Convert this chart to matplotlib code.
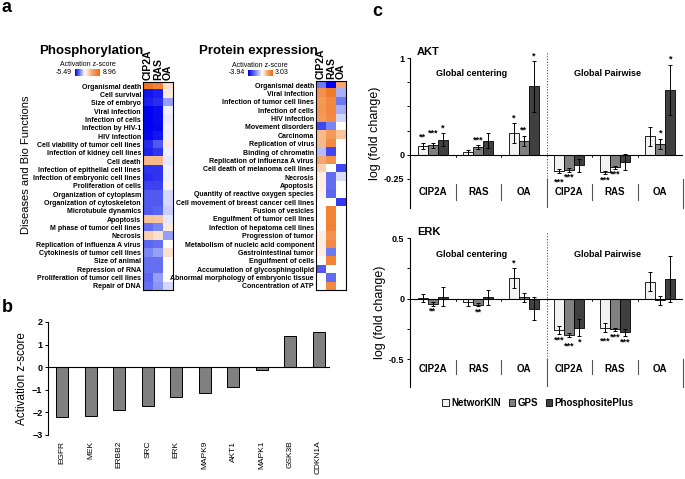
import numpy as np
import matplotlib
matplotlib.use("Agg")
import matplotlib.pyplot as plt
from matplotlib.colors import LinearSegmentedColormap, TwoSlopeNorm
from matplotlib.patches import Patch

plt.rcParams["font.family"] = "Liberation Sans"
plt.rcParams["font.weight"] = "bold"

W, H = 685, 479

# ── panel a: IPA z-scores ────────────────────────────────────────────
conditions = ["CIP2A", "RAS", "OA"]

phos_terms = [
    "Organismal death", "Cell survival", "Size of embryo", "Viral infection",
    "Infection of cells", "Infection by HIV-1", "HIV infection",
    "Cell viability of tumor cell lines", "Infection of kidney cell lines",
    "Cell death", "Infection of epithelial cell lines",
    "Infection of embryonic cell lines", "Proliferation of cells",
    "Organization of cytoplasm", "Organization of cytoskeleton",
    "Microtubule dynamics", "Apoptosis", "M phase of tumor cell lines",
    "Necrosis", "Replication of influenza A virus",
    "Cytokinesis of tumor cell lines", "Size of animal", "Repression of RNA",
    "Proliferation of tumor cell lines", "Repair of DNA",
]
phos_z = np.array([
    [8.0, 7.0, 1.5], [-5.0, -4.8, 1.0], [-4.8, -4.5, -2.0],
    [-5.4, -5.2, -0.3], [-5.4, -5.2, -0.4], [-5.4, -5.3, -0.3],
    [-5.3, -5.0, -0.3], [-4.5, -3.5, 1.0], [-4.7, -4.3, -0.3],
    [3.5, 3.5, -0.5], [-4.3, -4.3, -0.3], [-4.5, -4.3, -0.3],
    [-4.0, -4.0, 0.5], [-3.5, -3.5, -0.8], [-3.5, -3.5, -0.8],
    [-3.5, -3.3, -1.0], [3.0, 2.8, -0.5], [-3.0, -2.5, 1.0],
    [2.5, 1.5, -2.0], [-3.2, -3.0, 0.0], [-2.5, -2.0, 1.5],
    [-3.0, -3.0, 0.0], [-3.0, -3.0, 0.0], [-3.2, -2.0, 0.0],
    [-3.0, -2.2, -0.8],
])
phos_range = (-5.49, 8.96)

prot_terms = [
    "Organismal death", "Viral infection", "Infection of tumor cell lines",
    "Infection of cells", "HIV infection", "Movement disorders", "Carcinoma",
    "Replication of virus", "Binding of chromatin",
    "Replication of influenza A virus", "Cell death of melanoma cell lines",
    "Necrosis", "Apoptosis", "Quantity of reactive oxygen species",
    "Cell movement of breast cancer cell lines", "Fusion of vesicles",
    "Engulfment of tumor cell lines", "Infection of hepatoma cell lines",
    "Progression of tumor", "Metabolism of nucleic acid component",
    "Gastrointestinal tumor", "Engulfment of cells",
    "Accumulation of glycosphingolipid",
    "Abnormal morphology of embryonic tissue", "Concentration of ATP",
]
prot_z = np.array([
    [-2.0, -3.9, 1.5], [2.0, 2.6, -1.2], [1.8, 2.2, -2.0],
    [1.9, 2.3, -1.2], [1.8, 2.2, -0.6], [-2.8, -1.8, 0.0],
    [1.2, 1.8, 1.0], [1.2, 2.2, 0.0], [-1.0, -2.8, 0.0],
    [1.5, 2.0, 0.0], [0.8, 0.0, -2.8], [0.3, -2.2, -0.5],
    [0.3, -2.2, 0.0], [0.2, -2.3, 0.0], [0.0, 0.0, -3.0],
    [0.0, 2.4, 0.0], [0.0, 2.4, 0.0], [0.0, 2.4, 0.0],
    [0.3, 2.0, 0.0], [0.3, 2.2, 0.0], [0.3, -2.0, 0.0],
    [0.0, 2.4, 0.0], [-2.5, 0.0, 0.0], [0.0, -2.2, 0.0],
    [0.0, 2.2, 0.0],
])
prot_range = (-3.94, 3.03)

# ── panel b: upstream regulators ─────────────────────────────────────
regulators = ["EGFR", "MEK", "ERBB2", "SRC", "ERK", "MAPK9", "AKT1", "MAPK1",
              "GSK3B", "CDKN1A"]
reg_z = [-2.2, -2.18, -1.9, -1.7, -1.33, -1.12, -0.88, -0.12, 1.4, 1.55]

# ── panel c: kinase activity ─────────────────────────────────────────
groups = ["CIP2A", "RAS", "OA", "CIP2A", "RAS", "OA"]
sources = ["NetworKIN", "GPS", "PhosphositePlus"]

akt_mean = np.array([
    [0.093, 0.10, 0.155], [0.024, 0.076, 0.145], [0.224, 0.145, 0.707],
    [-0.165, -0.155, -0.11], [-0.183, -0.13, -0.076], [0.19, 0.114, 0.67],
])
akt_err = np.array([
    [0.03, 0.025, 0.065], [0.03, 0.02, 0.075], [0.1, 0.05, 0.26],
    [0.02, 0.02, 0.065], [0.02, 0.015, 0.08], [0.1, 0.05, 0.26],
])
akt_sig = [
    ["**", "***", "*"], ["", "***", ""], ["*", "**", "*"],
    ["***", "***", ""], ["***", "***", ""], ["", "*", "*"],
]

erk_mean = np.array([
    [0.005, -0.045, 0.015], [-0.03, -0.05, 0.01], [0.17, 0.01, -0.085],
    [-0.26, -0.30, -0.24], [-0.24, -0.255, -0.28], [0.14, -0.015, 0.16],
])
erk_err = np.array([
    [0.03, 0.015, 0.08], [0.03, 0.015, 0.06], [0.08, 0.04, 0.095],
    [0.035, 0.015, 0.07], [0.035, 0.015, 0.03], [0.08, 0.035, 0.19],
])
erk_sig = [
    ["", "**", ""], ["", "**", ""], ["*", "", ""],
    ["***", "***", "*"], ["***", "***", "***"], ["", "", ""],
]

# ── style ────────────────────────────────────────────────────────────
HEAT_CMAP = LinearSegmentedColormap.from_list(
    "bwo", ["#0000ee", "#6f7cf2", "#ffffff", "#f5a66c", "#ef6a12"])
BAR_COLORS = ["#f2f2f2", "#808080", "#404040"]


def box(x0, y0, x1, y1):
    """pixel box (left, top, right, bottom) -> figure fraction rect"""
    return [x0 / W, 1 - y1 / H, (x1 - x0) / W, (y1 - y0) / H]


fig = plt.figure(figsize=(W / 100, H / 100), dpi=100)


def heat_panel(hbox, cbox, z, terms, zrange, title, title_x):
    norm = TwoSlopeNorm(vmin=zrange[0], vcenter=0, vmax=zrange[1])
    ax = fig.add_axes(box(*hbox))
    ax.imshow(z, cmap=HEAT_CMAP, norm=norm, aspect="auto",
              interpolation="nearest")
    ax.set_yticks(range(len(terms)))
    ax.set_yticklabels(terms, fontsize=5.0)
    ax.xaxis.tick_top()
    ax.set_xticks(range(len(conditions)))
    ax.set_xticklabels(conditions, rotation=90, fontsize=7.5)
    ax.tick_params(length=0, pad=1.5)
    for s in ax.spines.values():
        s.set_linewidth(0.8)

    cax = fig.add_axes(box(*cbox))
    cax.imshow(np.linspace(zrange[0], zrange[1], 200)[None, :],
               cmap=HEAT_CMAP, norm=norm, aspect="auto")
    cax.set_xticks([])
    cax.set_yticks([])
    for s in cax.spines.values():
        s.set_visible(False)
    cax.text(-0.12, 0.5, f"{zrange[0]:.2f}", transform=cax.transAxes,
             ha="right", va="center", fontsize=5, fontweight="normal")
    cax.text(1.12, 0.5, f"{zrange[1]:.2f}", transform=cax.transAxes,
             ha="left", va="center", fontsize=5, fontweight="normal")
    cax.text(0.5, 1.15, "Activation z-score", transform=cax.transAxes,
             ha="center", va="bottom", fontsize=5, fontweight="normal")
    fig.text(title_x / W, 1 - 51 / H, title, ha="center", va="center",
             fontsize=9.5)


heat_panel((143, 82, 173, 290), (75, 69, 100, 76), phos_z, phos_terms,
           phos_range, "Phosphorylation", 91)
heat_panel((316, 81, 346, 290), (248, 70, 272, 76), prot_z, prot_terms,
           prot_range, "Protein expression", 258)
fig.text(26 / W, 1 - 165 / H, "Diseases and Bio Functions", rotation=90,
         ha="center", va="center", fontsize=8, fontweight="normal")

# ── panel b ──────────────────────────────────────────────────────────
axb = fig.add_axes(box(48, 322, 330, 435))
xb = np.arange(len(regulators))
axb.bar(xb, reg_z, 0.42, color="#808080", edgecolor="black", linewidth=0.7)
axb.axhline(0, color="black", lw=0.8)
axb.set_xlim(-0.5, len(regulators) - 0.6)
axb.set_ylim(-3, 2)
axb.set_yticks(range(-3, 3))
axb.set_xticks(xb)
axb.set_xticklabels(regulators, rotation=90, fontsize=6, fontweight="normal")
axb.tick_params(axis="x", length=0, pad=4)
axb.tick_params(axis="y", labelsize=6.5, length=2, width=0.7, pad=2)
for s in ["top", "right", "bottom"]:
    axb.spines[s].set_visible(False)
axb.spines["left"].set_linewidth(0.8)
axb.set_ylabel("Activation z-score", fontsize=8.5, labelpad=3)


# ── panel c ──────────────────────────────────────────────────────────
def kinase_panel(rect, mean, err, sig, name, ylim, ticks, ticklabels,
                 val_min, cat_y, sub_span, head_y):
    ax = fig.add_axes(box(*rect))
    x = np.arange(len(groups))
    bw = 0.22
    px_per_unit = (rect[3] - rect[1]) / (ylim[1] - ylim[0])
    gap = 1.0 / px_per_unit
    clash = 4.5 / px_per_unit          # star height in data units
    for j in range(len(sources)):
        ax.bar(x + (j - 1) * bw, mean[:, j], bw, color=BAR_COLORS[j],
               edgecolor="black", linewidth=0.6, yerr=err[:, j],
               error_kw=dict(ecolor="black", elinewidth=0.7, capsize=1.6,
                             capthick=0.7))

    # significance stars; a star that would hit its neighbour is pushed out
    for i in range(len(groups)):
        todo = []
        for j in range(len(sources)):
            if sig[i][j]:
                m, e = mean[i, j], err[i, j]
                sign = 1 if m >= 0 else -1
                todo.append((abs(m) + e, j, sign))
        placed = {}
        for reach, j, sign in sorted(todo):
            y = sign * (reach + gap)
            for _ in range(4):
                hit = [ky for k, (ks, ky) in placed.items()
                       if abs(k - j) == 1 and ks == sign
                       and abs(y - ky) < clash * 0.999]
                if not hit:
                    break
                y = max(hit, key=abs) + sign * clash
            placed[j] = (sign, y)
            ax.text(x[i] + (j - 1) * bw, y, sig[i][j], ha="center",
                    va="bottom" if sign > 0 else "top", fontsize=6.5)

    ax.axhline(0, color="black", lw=0.8)
    ax.set_xlim(-0.5, len(groups) - 0.5)
    ax.set_ylim(*ylim)
    ax.set_yticks(ticks)
    ax.set_yticklabels(ticklabels)
    ax.set_xticks([])
    ax.tick_params(axis="y", labelsize=6.5, length=2, width=0.7, pad=2)
    for s in ["top", "right", "bottom"]:
        ax.spines[s].set_visible(False)
    ax.spines["left"].set_linewidth(0.8)
    ax.set_ylabel("log (fold change)", fontsize=9, labelpad=2)

    # category labels and dividers
    for i, g in enumerate(groups):
        ax.text(i, cat_y, g, ha="center", va="center", fontsize=7)
    for b in [0.5, 1.5, 3.5, 4.5]:
        ax.plot([b, b], sub_span, color="#555555", lw=0.8)
        ax.plot([b, b], [0, -0.015 * (ylim[1] - ylim[0])], color="black",
                lw=0.6)
    top = ylim[1] + 0.04 * (ylim[1] - ylim[0])
    ax.plot([2.5, 2.5], [val_min, top], color="#555555", lw=0.8,
            ls=(0, (1, 1.5)), clip_on=False)
    ax.plot([2.5, 2.5], [ylim[0], val_min], color="#555555", lw=0.8)
    ax.plot([5.5, 5.5], [ylim[0], val_min], color="#555555", lw=0.8,
            clip_on=False)

    ax.text(-0.35, ylim[1] + 0.01 * (ylim[1] - ylim[0]), name, ha="left",
            va="bottom", fontsize=8)
    ax.text(0.85, head_y, "Global centering", ha="center", va="center",
            fontsize=6.5)
    ax.text(3.85, head_y, "Global Pairwise", ha="center", va="center",
            fontsize=6.5)
    return ax


kinase_panel((410, 58, 683, 208), akt_mean, akt_err, akt_sig, "AKT",
             (-0.55, 1.0), [-0.25, 0, 0.25, 0.5, 0.75, 1.0],
             ["-0.25", "0", "", "", "", "1"], -0.25, -0.385,
             [-0.30, -0.47], 0.84)
kinase_panel((410, 238, 683, 387), erk_mean, erk_err, erk_sig, "ERK",
             (-0.73, 0.5), [-0.5, -0.25, 0, 0.25, 0.5],
             ["-0.5", "", "0", "", "0.5"], -0.5, -0.58,
             [-0.51, -0.62], 0.36)

handles = [Patch(facecolor=c, edgecolor="black", linewidth=0.6)
           for c in BAR_COLORS]
fig.legend(handles, sources, loc="center", ncol=3,
           bbox_to_anchor=(538 / W, 1 - 403 / H), frameon=False,
           fontsize=7, handlelength=0.7, handleheight=0.7,
           handletextpad=0.2, columnspacing=0.8)

# panel letters
for lbl, (px, py) in zip(["a", "b", "c"], [(2, 8), (2, 307), (372, 11)]):
    fig.text(px / W, 1 - py / H, lbl, fontsize=13, ha="left", va="center")

fig.savefig("out.png", dpi=100)
